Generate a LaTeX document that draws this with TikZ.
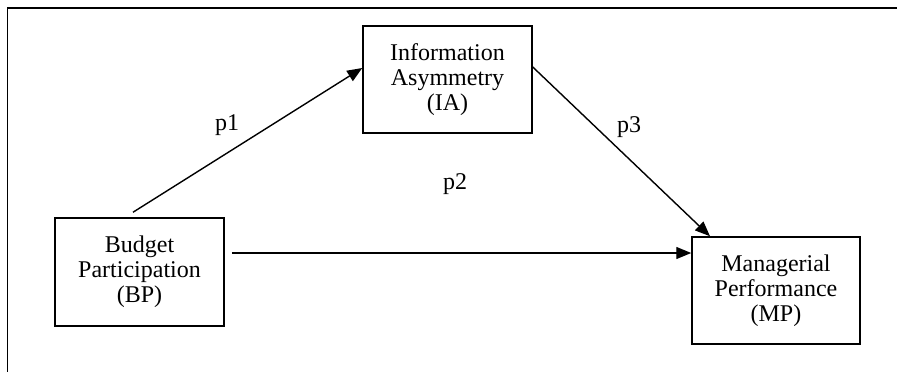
\documentclass[tikz,border=0pt]{standalone}
\usepackage{fontspec}
\setmainfont{Liberation Serif}
\usetikzlibrary{arrows.meta}
\begin{document}
\begin{tikzpicture}[x=1pt,y=-1pt,
  every node/.style={font=\fontsize{24}{25}\selectfont},
  varbox/.style={draw,line width=1.5pt,align=center,inner sep=0pt,
    minimum width=169pt,minimum height=107pt},
  arr/.style={line width=1.4pt,-{Triangle[length=15pt,width=12pt]}},
  plabel/.style={inner sep=0pt}]
  \useasboundingbox (0,0) rectangle (897,372);
  % partial frame (top and left edges)
  \draw[line width=1.5pt] (7.5,372) -- (7.5,8) -- (897,8);
  % variables
  \node[varbox] (IA) at (447.5,79.5) {Information\\Asymmetry\\(IA)};
  \node[varbox,minimum height=108pt] (BP) at (139.5,272) {Budget\\Participation\\(BP)};
  \node[varbox,minimum width=168pt] (MP) at (776,290.5) {Managerial\\Performance\\(MP)};
  % paths
  \draw[arr] ([xshift=-6.5pt,yshift=5pt]BP.north) -- ([yshift=11.5pt]IA.west);
  \draw[arr] ([yshift=12.5pt]IA.east) -- ([xshift=-66pt]MP.north);
  \draw[arr] ([xshift=7pt,yshift=19pt]BP.east) -- ([yshift=37.5pt]MP.west);
  % path labels
  \node[plabel] (l1) at (227,125) {p1};
  \node[plabel] (l2) at (455,184) {p2};
  \node[plabel] (l3) at (629,127) {p3};
\end{tikzpicture}
\end{document}
